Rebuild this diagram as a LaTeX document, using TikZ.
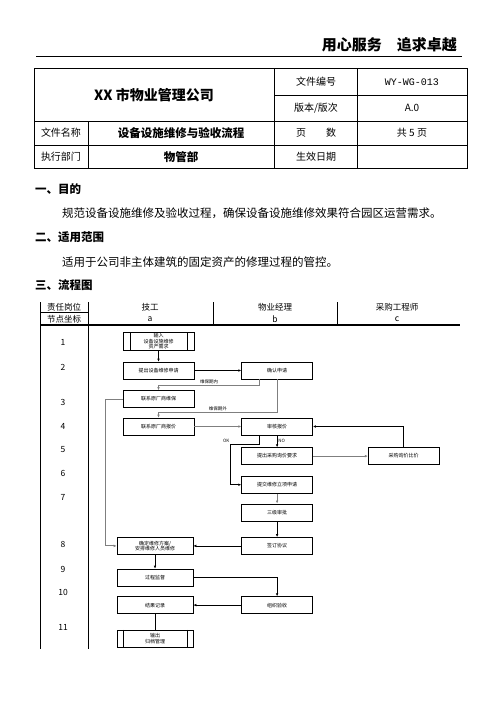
\documentclass[tikz,border=0pt]{standalone}
\usepackage{fontspec}
\setmainfont{Noto Sans CJK SC}
\newfontfamily\codefont{Liberation Mono}
\usetikzlibrary{arrows.meta,positioning}
\definecolor{lineg}{HTML}{7F7F7F}
\newcommand{\fs}[2]{\fontsize{#1}{#2}\selectfont}
\tikzset{
  cell/.style={inner sep=0pt,font=\fs{10}{12}},
  bcell/.style={inner sep=0pt,font=\fs{11.5}{13}\bfseries},
  sechead/.style={inner sep=0pt,anchor=west,font=\fs{11.5}{13}\bfseries},
  body/.style={inner sep=0pt,anchor=west,font=\fs{11.5}{13}},
  lane/.style={inner sep=0pt,font=\fs{8.5}{10}},
  proc/.style={draw,line width=0.6pt,minimum width=71pt,minimum height=17pt,
               inner sep=1pt,align=center,font=\fs{5}{5.5}},
  ends/.style={proc},
  glab/.style={inner sep=1pt,font=\fs{4.5}{5}},
  arr/.style={-{Latex[length=3pt,width=2.6pt]},line width=0.6pt},
  garr/.style={arr,draw=lineg,line width=1pt}
}

\begin{document}
\begin{tikzpicture}[x=1pt,y=-1pt]
\useasboundingbox (0,0) rectangle (496,702);
% page head
\node[inner sep=0pt,anchor=east,font=\fs{15}{17}\bfseries] (motto) at (457,45) {用心服务　追求卓越};
\draw[line width=0.8pt] (36,56) -- (462,56);
% document table
\draw[line width=0.6pt] (34,68) rectangle (467,168);
\draw (274,95) -- (467,95);
\draw (34,121) -- (467,121);
\draw (34,145) -- (467,145);
\draw (88,121) -- (88,168);
\draw (274,68) -- (274,168);
\draw (357,68) -- (357,168);
\node[inner sep=0pt,font=\fs{14}{16}\bfseries] (company) at (154,95) {XX 市物业管理公司};
\node[cell] (noname) at (316,82) {文件编号};
\node[cell,font=\codefont\fs{10}{12}] (noval) at (412,82) {WY-WG-013};
\node[cell] (vername) at (316,108) {版本/版次};
\node[cell] (verval) at (412,108) {A.0};
\node[cell] (filename) at (61,133) {文件名称};
\node[bcell] (fileval) at (181,133) {设备设施维修与验收流程};
\node[cell] (pagename) at (316,133) {页　　数};
\node[cell] (pageval) at (412,133) {共 5 页};
\node[cell] (deptname) at (61,157) {执行部门};
\node[bcell] (deptval) at (181,157) {物管部};
\node[cell] (datename) at (316,157) {生效日期};
% sections
\node[sechead] (sec1) at (35,189) {一、目的};
\node[body] (txt1) at (62,213) {规范设备设施维修及验收过程，确保设备设施维修效果符合园区运营需求。};
\node[sechead] (sec2) at (35,237) {二、适用范围};
\node[body] (txt2) at (62,262) {适用于公司非主体建筑的固定资产的修理过程的管控。};
\node[sechead] (sec3) at (35,285) {三、流程图};
% swimlane frame
\draw[line width=0.7pt] (40,302) -- (40,649);
\draw[line width=0.7pt] (88,302) -- (88,649);
\draw[line width=0.7pt] (213,302) -- (213,325);
\draw[line width=0.7pt] (337,302) -- (337,325);
\draw[line width=1.2pt] (40,312.5) -- (88,312.5);
\draw[line width=1.2pt] (40,325) -- (460,325);
\node[lane] (hpost) at (64,307) {责任岗位};
\node[lane] (hnode) at (64,319.5) {节点坐标};
\node[lane] (hworker) at (150,307) {技工};
\node[lane] (ha) at (150,319.5) {a};
\node[lane] (hmanager) at (275,307) {物业经理};
\node[lane] (hb) at (275,319.5) {b};
\node[lane] (hbuyer) at (397,307) {采购工程师};
\node[lane] (hc) at (397,319.5) {c};
\foreach \n/\y in {1/342,2/367,3/402,4/426,5/450,6/473,7/497,8/544,9/569,10/592,11/627}
  \node[lane] (row\n) at (63,\y) {\n};
% flow
\node[ends] (start) at (158.5,341.5) {输入\\设备设施维修\\资产需求};
\draw ([xshift=7pt]start.north west) -- ([xshift=7pt]start.south west);
\draw ([xshift=-7pt]start.north east) -- ([xshift=-7pt]start.south east);
\node[proc] (apply) at (158.5,370.5) {提出设备维修申请};
\node[proc,right=47pt of apply] (confirm) {确认申请};
\node[proc] (oemfix) at (158.5,399) {联系原厂商维保};
\node[proc] (oemquote) at (158.5,426.5) {联系原厂商报价};
\node[proc,right=47pt of oemquote] (review) {审核报价};
\node[proc,below=12pt of review] (inquiry) {提出采购询价要求};
\node[proc,right=55pt of inquiry] (compare) {采购询价比价};
\node[proc,below=11pt of inquiry] (project) {提交维修立项申请};
\node[proc,below=10pt of project] (approve) {三级审批};
\node[proc,below=16pt of approve] (sign) {签订协议};
\node[proc,minimum width=76pt,left=48pt of sign] (build) {确定维修方案/\\安排维修人员维修};
\node[proc,minimum width=76pt,below=14pt of build] (supervise) {过程监督};
\node[proc,minimum width=76pt,below=10pt of supervise] (record) {结果记录};
\node[proc,right=48pt of record] (accept) {组织验收};
\node[ends,minimum width=76pt,below=16pt of record] (finish) {输出\\归档管理};
\draw ([xshift=6pt]finish.north west) -- ([xshift=6pt]finish.south west);
\draw ([xshift=-6pt]finish.north east) -- ([xshift=-6pt]finish.south east);
\draw[arr] (start) -- (apply);
\draw[arr] (apply) -- (confirm);
\draw[garr] ([xshift=-17.5pt]confirm.south) -- ++(0,6)
  -| node[glab,above,pos=0.25] (inlab) {维保期内} (oemfix.north);
\draw[garr] (confirm.south) -- ++(0,33)
  -| node[glab,above,pos=0.25] (outlab) {维保期外} (oemquote.north);
\draw[garr] (oemquote) -- (review);
\draw[arr] (review) -- node[glab,right,pos=0.45] (nolab) {NO} (inquiry);
\draw[arr] ([xshift=-17.5pt]review.south) -- ++(0,9) -- ++(-29,0)
  node[glab,anchor=south east] (oklab) {OK} |- (project.west);
\draw[garr] (inquiry) -- (compare);
\draw[arr] (compare.north) |- (review.east);
\draw[garr] (project) -- (approve);
\draw[arr] (approve) -- (sign);
\draw[arr] (sign) -- (build);
\draw[garr] (oemfix.west) -- ++(-17,0) |- (build.west);
\draw[arr] (build) -- (supervise);
\draw[arr] (supervise.east) -| (accept.north);
\draw[arr] (accept) -- (record);
\draw[line width=0.6pt] (record) -- (finish);
\end{tikzpicture}
\end{document}
